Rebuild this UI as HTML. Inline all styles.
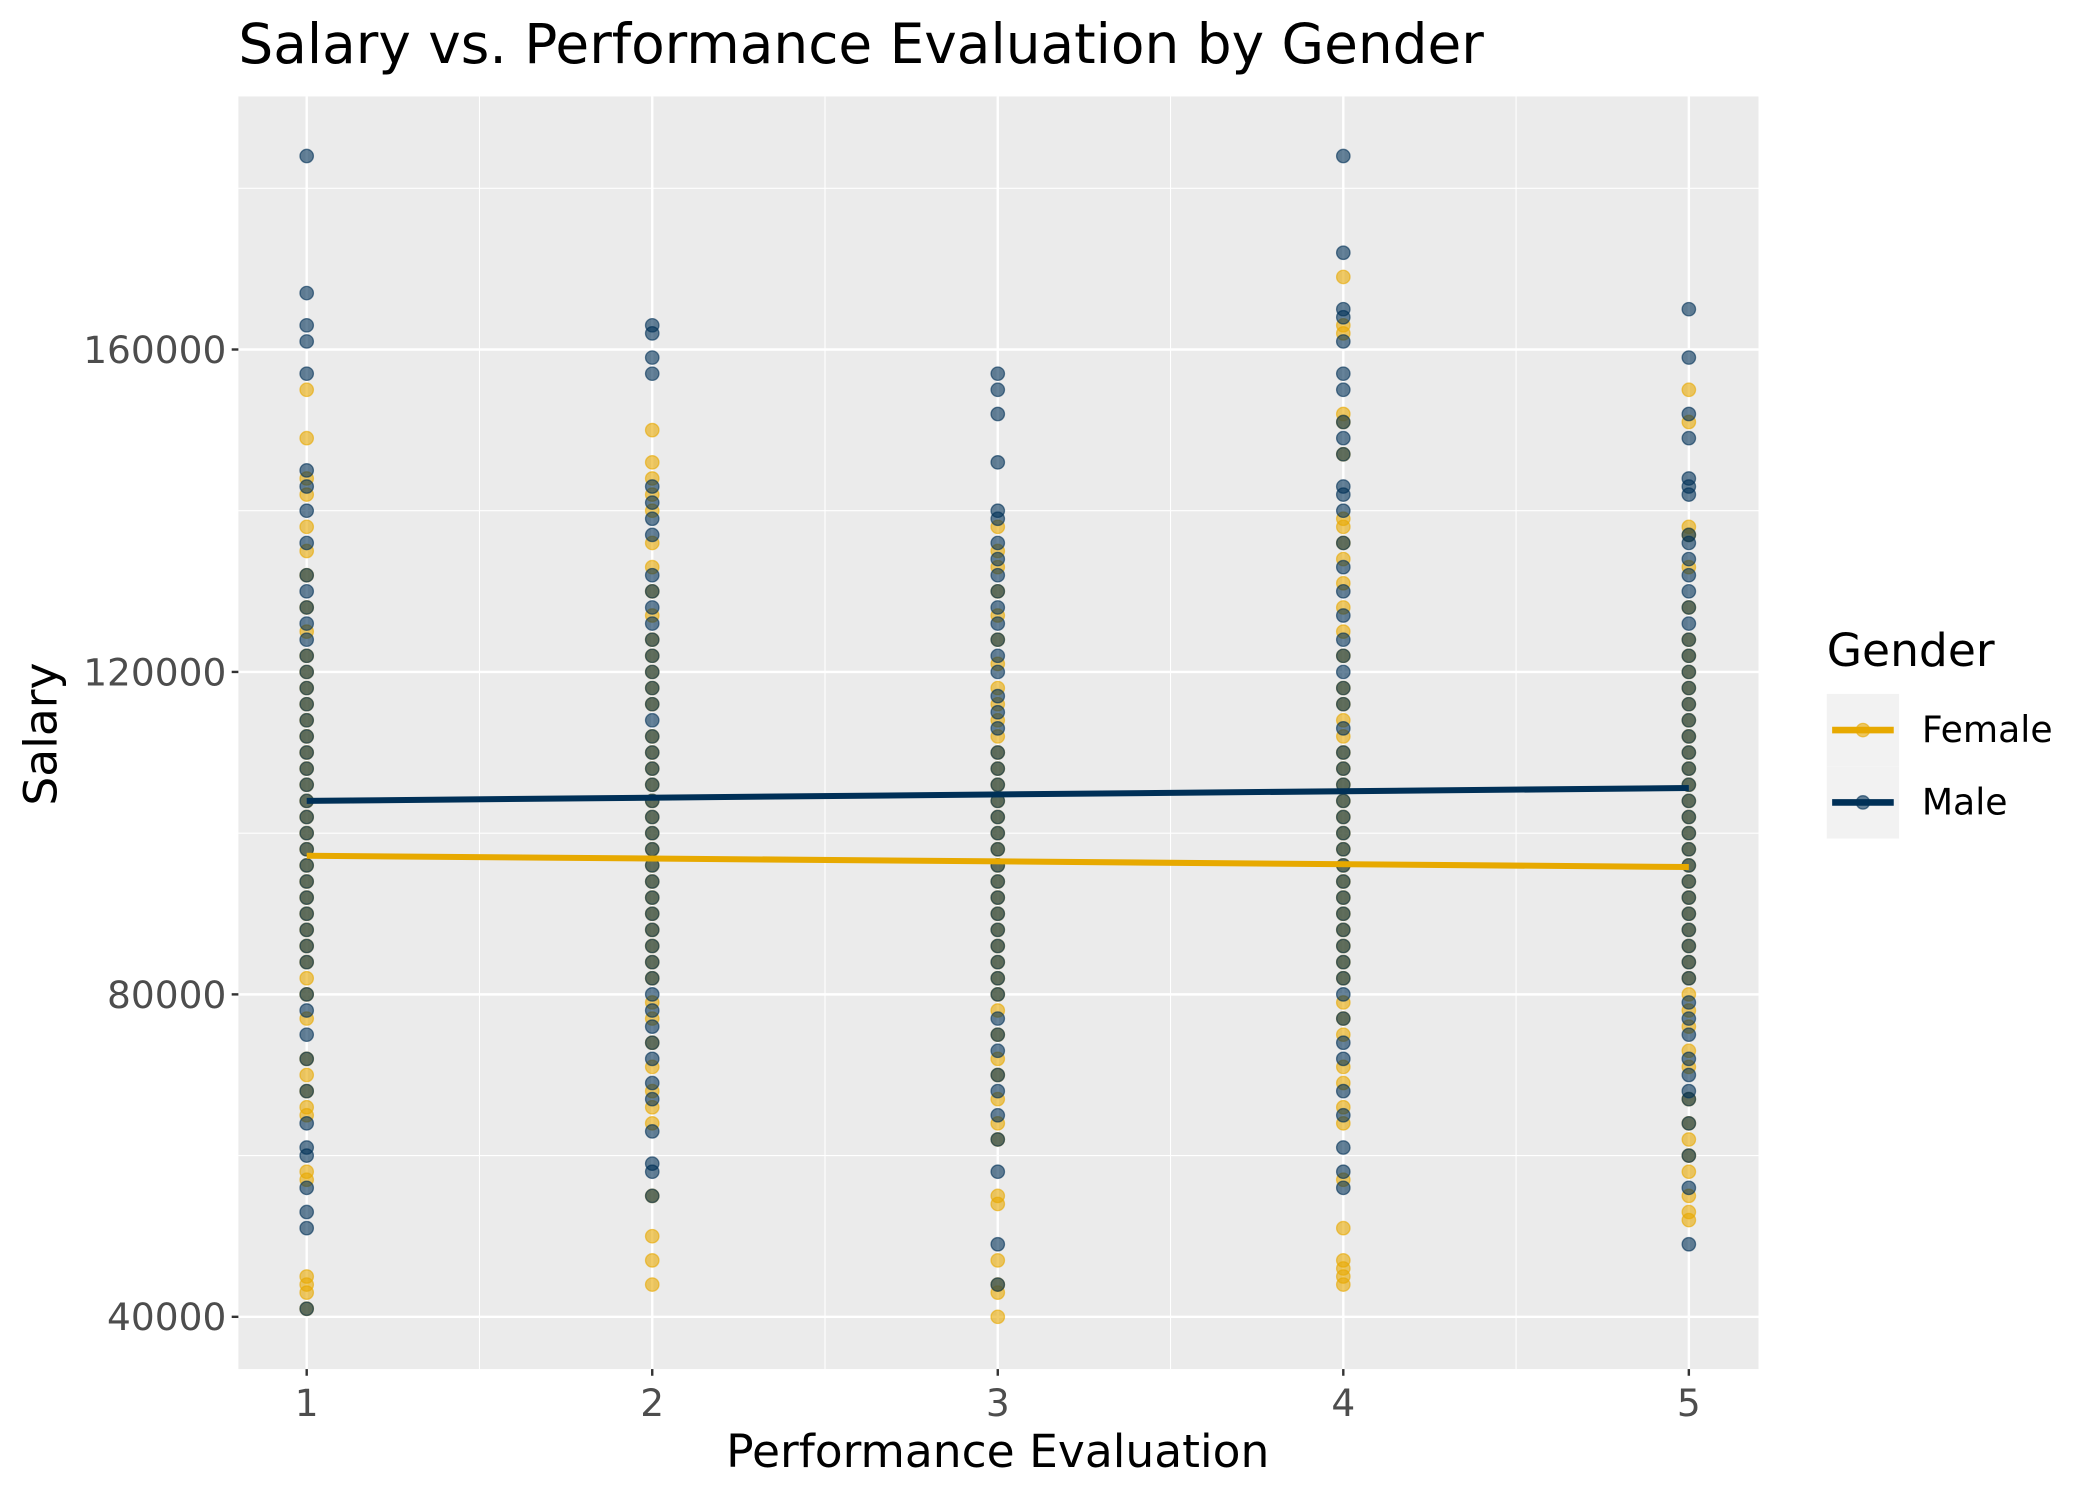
<!DOCTYPE html>
<html><head><meta charset="utf-8">
<style>
html,body{margin:0;padding:0;background:#fff;}
svg{display:block;font-family:"DejaVu Sans","Liberation Sans",sans-serif;}
</style></head>
<body>
<svg id="chart" width="2100" height="1499" viewBox="0 0 1568 1119" preserveAspectRatio="none" xmlns="http://www.w3.org/2000/svg">
<text x="178" y="47" font-size="41" fill="#000">Salary vs. Performance Evaluation by Gender</text>
<rect x="178" y="72" width="1135" height="950" fill="#ebebeb"/>
<g id="grid"></g>
<g id="points"></g>
<g id="fits"></g>
<g id="axes"></g>
<text x="745" y="1095" font-size="34" text-anchor="middle" fill="#000">Performance Evaluation</text>
<text transform="translate(42,548) rotate(-90)" font-size="34" text-anchor="middle" fill="#000">Salary</text>
<g>
<text x="1364" y="497" font-size="34" fill="#000">Gender</text>
<g>
<rect x="1364" y="518" width="54" height="54" fill="#f2f2f2"/>
<line x1="1368" y1="545" x2="1414" y2="545" stroke="#E7A900" stroke-width="5"/>
<circle cx="1391" cy="545" r="5" fill="#E7A900" fill-opacity="0.6" stroke="#E7A900" stroke-opacity="0.6"/>
<text x="1435" y="554" font-size="27" fill="#000">Female</text>
</g>
<g>
<rect x="1364" y="572" width="54" height="54" fill="#f2f2f2"/>
<line x1="1368" y1="599" x2="1414" y2="599" stroke="#003057" stroke-width="5"/>
<circle cx="1391" cy="599" r="5" fill="#003057" fill-opacity="0.6" stroke="#003057" stroke-opacity="0.6"/>
<text x="1435" y="608" font-size="27" fill="#000">Male</text>
</g>
</g>
</svg>
<script>
const evalCategories = [1,2,3,4,5];
const yTicks = [40000,80000,120000,160000];
const yMinor = [60000,100000,140000,180000];
const xMinor = [1.5,2.5,3.5,4.5];
const maleFit = [104000,105600];
const femaleFit = [97200,95800];
const male1 = [184,167,163,161,157,145,143,140,136,132,130,128,126,124,122,120,118,116,114,112,110,108,106,104,102,100,98,96,94,92,90,88,86,84,80,78,75,72,68,64,61,60,56,53,51,41];
const female1 = [155,149,144,142,138,135,132,128,125,122,120,118,116,114,112,110,108,106,104,102,100,98,96,94,92,90,88,86,84,82,80,77,72,70,68,66,65,58,57,45,44,43,41];
const male2 = [163,162,159,157,143,141,139,137,132,130,128,126,124,122,120,118,116,114,112,110,108,106,104,102,100,98,96,94,92,90,88,86,84,82,80,78,76,74,72,69,67,63,59,58,55];
const female2 = [150,146,144,142,140,136,133,130,127,124,122,120,118,116,112,110,108,106,104,102,100,98,96,94,92,90,88,86,84,82,79,77,74,71,68,66,64,55,50,47,44];
const male3 = [157,155,152,146,140,139,136,134,132,130,128,126,124,122,120,117,115,113,110,108,106,104,102,100,98,96,94,92,90,88,86,84,82,80,77,75,73,70,68,65,62,58,49,44];
const female3 = [138,135,133,130,127,124,121,118,116,114,112,110,108,106,104,102,100,98,96,94,92,90,88,86,84,82,80,78,75,72,70,67,64,62,55,54,47,44,43,40];
const male4 = [184,172,165,164,161,157,155,151,149,147,143,142,140,136,133,130,127,124,122,120,118,116,113,110,108,106,104,102,100,98,96,94,92,90,88,86,84,82,80,77,74,72,68,65,61,58,56];
const female4 = [169,163,162,152,151,147,139,138,136,134,131,128,125,122,118,116,114,112,110,108,106,104,102,100,98,96,94,92,90,88,86,84,82,79,77,75,71,69,66,64,57,51,47,46,45,44];
const male5 = [165,159,152,149,144,143,142,137,136,134,132,130,128,126,124,122,120,118,116,114,112,110,108,106,104,102,100,98,96,94,92,90,88,86,84,82,79,77,75,72,70,68,67,64,60,56,49];
const female5 = [155,151,138,137,133,128,124,122,120,118,116,114,112,110,108,106,104,102,100,98,96,94,92,90,88,86,84,82,80,78,76,73,71,67,64,62,60,58,55,53,52];

const NS = "http://www.w3.org/2000/svg";
const X0=178, X1=1313, Y0=72, Y1=1022;
function sx(v){ return 229 + (v-1)*258; }
function sy(v){ return 983 - (v-40000)/40000*240.7; }
function mk(tag, attrs, parent){
  const e=document.createElementNS(NS,tag);
  for(const k in attrs) e.setAttribute(k, attrs[k]);
  parent.appendChild(e); return e;
}
const grid=document.getElementById('grid');
yMinor.forEach(v=>{ if(sy(v)>Y0){ const l=mk('line',{x1:X0,x2:X1,y1:sy(v),y2:sy(v),stroke:'#fff','stroke-width':0.8},grid);

}});
xMinor.forEach(v=>{ const l=mk('line',{x1:sx(v),x2:sx(v),y1:Y0,y2:Y1,stroke:'#fff','stroke-width':0.8},grid);

});
yTicks.forEach(v=>{ const l=mk('line',{x1:X0,x2:X1,y1:sy(v),y2:sy(v),stroke:'#fff','stroke-width':1.8},grid);

});
evalCategories.forEach(v=>{ const l=mk('line',{x1:sx(v),x2:sx(v),y1:Y0,y2:Y1,stroke:'#fff','stroke-width':1.8},grid);

});

const pts=document.getElementById('points');
const fem=[female1,female2,female3,female4,female5];
const mal=[male1,male2,male3,male4,male5];
function drawGroup(groups,color,name){
  groups.forEach((arr,i)=>{
    arr.forEach(v=>{
      const c=mk('circle',{cx:sx(evalCategories[i]),cy:sy(v*1000),r:5,fill:color,'fill-opacity':0.6,stroke:color,'stroke-opacity':0.6,'stroke-width':1},pts);
      
      
    });
  });
}
drawGroup(fem,'#E7A900','female-point');
drawGroup(mal,'#003057','male-point');

const fits=document.getElementById('fits');
const ml=mk('line',{x1:sx(1),x2:sx(5),y1:sy(maleFit[0]),y2:sy(maleFit[1]),stroke:'#003057','stroke-width':4.5},fits);


const fl=mk('line',{x1:sx(1),x2:sx(5),y1:sy(femaleFit[0]),y2:sy(femaleFit[1]),stroke:'#E7A900','stroke-width':4.5},fits);



const axes=document.getElementById('axes');
yTicks.forEach(v=>{
  mk('line',{x1:X0-5,x2:X0,y1:sy(v),y2:sy(v),stroke:'#333','stroke-width':1.8},axes);
  const t=mk('text',{x:X0-9,y:sy(v)+10,'font-size':28,'text-anchor':'end',fill:'#4d4d4d'},axes);
  t.textContent=v;
  
  
});
evalCategories.forEach(v=>{
  mk('line',{x1:sx(v),x2:sx(v),y1:Y1,y2:Y1+5,stroke:'#333','stroke-width':1.8},axes);
  const t=mk('text',{x:sx(v),y:Y1+35,'font-size':28,'text-anchor':'middle',fill:'#4d4d4d'},axes);
  t.textContent=v;
  
  
});
</script>
</body></html>
